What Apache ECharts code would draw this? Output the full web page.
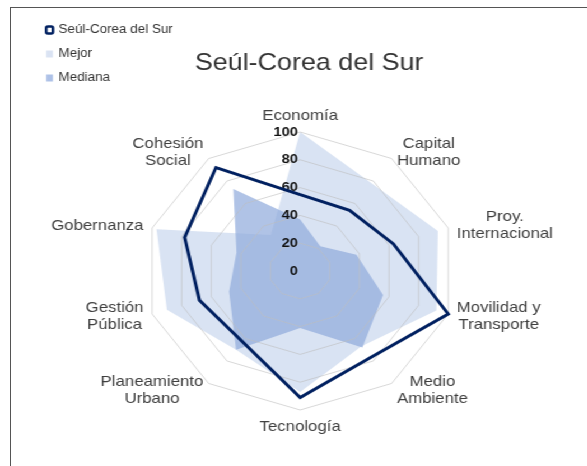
<!DOCTYPE html>
<html>
<head>
<meta charset="utf-8">
<script src="https://cdn.jsdelivr.net/npm/echarts@6.0.0/dist/echarts.min.js"></script>
<style>
html, body { margin: 0; padding: 0; background: #fff; overflow: hidden; }
#marco { position: absolute; left: 10px; top: 7px; width: 600px; height: 480px;
         border-left: 1.5px solid #555; border-top: 1.5px solid #555; }
/* la imagen original esta estirada en horizontal */
#grafico { position: absolute; left: 0; top: 0; width: 524px; height: 466px;
           transform: scaleX(1.12); transform-origin: 0 0; }
</style>
</head>
<body>
<div id="marco"></div>
<div id="grafico"></div>
<script>
// ejes en sentido horario empezando por arriba
var ejes = ['Economía', 'Capital\nHumano', 'Proy.\nInternacional', 'Movilidad y\nTransporte',
            'Medio\nAmbiente', 'Tecnología', 'Planeamiento\nUrbano', 'Gestión\nPública',
            'Gobernanza', 'Cohesión\nSocial'];
var seul    = [55, 54, 63, 100, 77, 91, 63, 68, 78, 92];
var mejor   = [100, 78, 93, 92, 67, 87, 70, 90, 97, 32];
var mediana = [37, 22, 38, 56, 68, 41, 70, 48, 43, 73];
var maxEje = 100;

var fuente = 'Liberation Sans, Arial, sans-serif';

// echarts reparte los ejes en sentido antihorario: se invierte el orden
function horario(arr) {
    var out = [arr[0]];
    for (var i = arr.length - 1; i > 0; i--) out.push(arr[i]);
    return out;
}

var indicadores = horario(ejes).map(function (n, i) {
    var ind = { name: n, min: 0, max: maxEje };
    if (i === 0) ind.axisLabel = { show: true };
    return ind;
});

var myChart = echarts.init(document.getElementById('grafico'));
var option = {
    animation: false,
    title: {
        text: 'Seúl-Corea del Sur',
        left: 169,
        top: 46,
        textStyle: { fontFamily: fuente, fontSize: 24, fontWeight: 'normal', color: '#333' }
    },
    legend: {
        orient: 'vertical',
        left: 35,
        top: 19,
        itemWidth: 6,
        itemHeight: 7,
        itemGap: 12,
        textStyle: { fontFamily: fuente, fontSize: 12, color: '#333' },
        data: [
            { name: 'Seúl-Corea del Sur', icon: 'roundRect',
              itemStyle: { color: '#fff', borderColor: '#002060', borderWidth: 2.5 } },
            { name: 'Mejor', icon: 'rect', itemStyle: { color: '#dae3f3', borderWidth: 0 } },
            { name: 'Mediana', icon: 'rect', itemStyle: { color: '#adc1e7', borderWidth: 0 } }
        ]
    },
    radar: {
        zlevel: 1,
        center: [268, 271],
        radius: 139,
        startAngle: 90,
        splitNumber: 5,
        shape: 'polygon',
        indicator: indicadores,
        axisName: {
            color: '#404040',
            fontFamily: fuente,
            fontSize: 15,
            lineHeight: 17,
            formatter: function (v) {
                return v.split('\n').map(function (s) { return '{c|' + s + '}'; }).join('\n');
            },
            rich: {
                c: { align: 'center', fontFamily: fuente, fontSize: 15, lineHeight: 17, color: '#404040' }
            }
        },
        nameGap: 8,
        axisLine: { show: false },
        axisTick: { show: false },
        axisLabel: {
            show: false,
            margin: 2,
            fontFamily: fuente,
            fontSize: 13,
            fontWeight: 'bold',
            color: '#111'
        },
        splitLine: { lineStyle: { color: 'rgba(190,190,190,0.6)', width: 1 } },
        splitArea: { show: false }
    },
    series: [
        {
            name: 'Mejor',
            type: 'radar',
            symbol: 'none',
            zlevel: 0,
            z: 1,
            itemStyle: { color: '#dae3f3' },
            lineStyle: { width: 0, opacity: 0 },
            areaStyle: { color: 'rgba(180,199,231,0.5)', opacity: 1 },
            data: [{ name: 'Mejor', value: horario(mejor) }]
        },
        {
            name: 'Mediana',
            type: 'radar',
            symbol: 'none',
            zlevel: 0,
            z: 2,
            itemStyle: { color: '#adc1e7' },
            lineStyle: { width: 0, opacity: 0 },
            areaStyle: { color: 'rgba(143,170,220,0.7)', opacity: 1 },
            data: [{ name: 'Mediana', value: horario(mediana) }]
        },
        {
            name: 'Seúl-Corea del Sur',
            type: 'radar',
            symbol: 'none',
            zlevel: 2,
            itemStyle: { color: '#002060' },
            lineStyle: { color: '#002060', width: 3, join: 'miter' },
            data: [{ name: 'Seúl-Corea del Sur', value: horario(seul) }]
        }
    ]
};
myChart.setOption(option);
</script>
</body>
</html>
